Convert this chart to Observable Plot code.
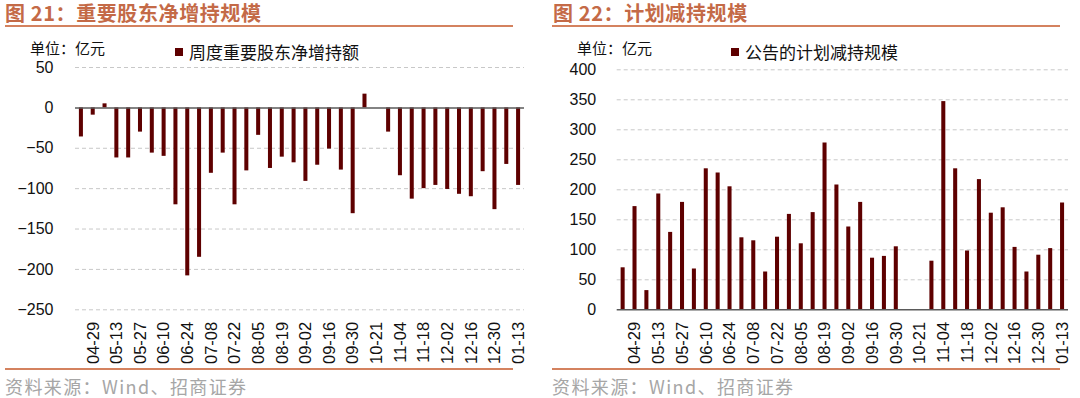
<!DOCTYPE html>
<html>
<head>
<meta charset="utf-8">
<script src="https://cdn.jsdelivr.net/npm/d3@7"></script>
<script src="https://cdn.jsdelivr.net/npm/@observablehq/plot@0.6"></script>
<style>
  html, body { margin: 0; padding: 0; background: #fff; }
  body { width: 1080px; height: 398px; position: relative; overflow: hidden;
         font-family: "Noto Sans CJK SC", "Noto Sans", sans-serif; }
  .title { position: absolute; top: 0; line-height: 25px; font-size: 20px; letter-spacing: 0.6px; font-weight: bold;
           color: #c46a47; white-space: nowrap; }
  .rule { position: absolute; height: 2px; width: 508px; background: #d4825f; }
  .unit { position: absolute; top: 38px; line-height: 19px; font-size: 15px; color: #111; white-space: nowrap; }
  .legend { position: absolute; top: 41px; line-height: 22px; font-size: 17px; color: #111; white-space: nowrap;
            display: flex; align-items: center; }
  .legend i { display: inline-block; width: 8px; height: 8px; background: #5e0000; margin-right: 6px; }
  .source { position: absolute; top: 374px; line-height: 24px; font-size: 18px; letter-spacing: 1.4px; color: #a6a6a6; white-space: nowrap; }
  .chart { position: absolute; top: 55px; }
</style>
</head>
<body>
<div class="title" style="left:5px">图 21：重要股东净增持规模</div>
<div class="rule" style="left:5px; top:25px"></div>
<div class="unit" style="left:30px">单位：亿元</div>
<div class="legend" style="left:175px"><i></i>周度重要股东净增持额</div>
<div class="chart" id="c1" style="left:0px"></div>
<div class="rule" style="left:5px; top:368px"></div>
<div class="source" style="left:5px">资料来源：Wind、招商证券</div>

<div class="title" style="left:553px">图 22：计划减持规模</div>
<div class="rule" style="left:552px; top:25px"></div>
<div class="unit" style="left:577px">单位：亿元</div>
<div class="legend" style="left:731px"><i></i>公告的计划减持规模</div>
<div class="chart" id="c2" style="left:540px"></div>
<div class="rule" style="left:552px; top:368px"></div>
<div class="source" style="left:552px">资料来源：Wind、招商证券</div>

<script>
// Weekly categories (10-07 holiday week absent)
const dates = ["04-22","04-29","05-06","05-13","05-20","05-27","06-03","06-10","06-17","06-24",
               "07-01","07-08","07-15","07-22","07-29","08-05","08-12","08-19","08-26","09-02",
               "09-09","09-16","09-23","09-30","10-14","10-21","10-28","11-04","11-11","11-18",
               "11-25","12-02","12-09","12-16","12-23","12-30","01-06","01-13"];
// Tick labels shown on the axis
const tickLabels = ["04-29","05-13","05-27","06-10","06-24","07-08","07-22","08-05","08-19","09-02",
                    "09-16","09-30","10-21","11-04","11-18","12-02","12-16","12-30","01-13"];
// 周度重要股东净增持额 (亿元)
const netIncrease = [-36,-9,5,-62,-62,-30,-56,-60,-120,-208,
                     -185,-81,-56,-120,-78,-34,-75,-61,-68,-91,
                     -71,-51,-77,-131,17,null,-30,-84,-113,-100,
                     -96,-101,-107,-110,-79,-126,-70,-96];
// 公告的计划减持规模 (亿元)
const plannedReduction = [70,172,32,193,129,179,68,235,228,205,
                          120,115,63,121,159,110,162,278,208,138,
                          179,86,89,105,null,null,81,347,235,98,
                          217,161,170,104,63,91,102,178];
const yTicks1 = [-250,-200,-150,-100,-50,0,50];
const yTicks2 = [0,50,100,150,200,250,300,350,400];

function chart(values, yDomain, yTicks, m) {
  const data = dates.map((d, i) => ({d, v: values[i]})).filter(r => r.v != null);
  return Plot.plot({
    width: 540, height: 320,
    marginLeft: m.left, marginRight: m.right, marginTop: m.top, marginBottom: m.bottom,
    style: {fontFamily: "'Liberation Sans', Arial, sans-serif", fontSize: "16px", color: "#111", background: "transparent", overflow: "visible"},
    x: {type: "band", domain: dates, paddingInner: 0.66, paddingOuter: 0.33, label: null},
    y: {domain: yDomain, label: null},
    marks: [
      Plot.gridY(yTicks.filter(t => t !== 0), {stroke: "#c8c8c8", strokeOpacity: 1, strokeDasharray: "4,3"}),
      Plot.barY(data, {x: "d", y: "v", fill: "#5e0000"}),
      Plot.ruleY([0], {stroke: "#5a5a5a", strokeWidth: 1.5}),
      Plot.axisY({ticks: yTicks, tickSize: 0, tickPadding: m.ypad, label: null, fontSize: 16}),
      Plot.axisX({ticks: tickLabels, tickSize: 0, tickPadding: 12, tickRotate: -90, label: null, fontSize: 16.5})
    ]
  });
}

document.getElementById("c1").appendChild(
  chart(netIncrease, [-250, 50], yTicks1, {left: 75, right: 16, top: 12, bottom: 65.7, ypad: 22}));
document.getElementById("c2").appendChild(
  chart(plannedReduction, [0, 400], yTicks2, {left: 76.7, right: 12, top: 14.3, bottom: 65.7, ypad: 21}));
</script>
</body>
</html>
